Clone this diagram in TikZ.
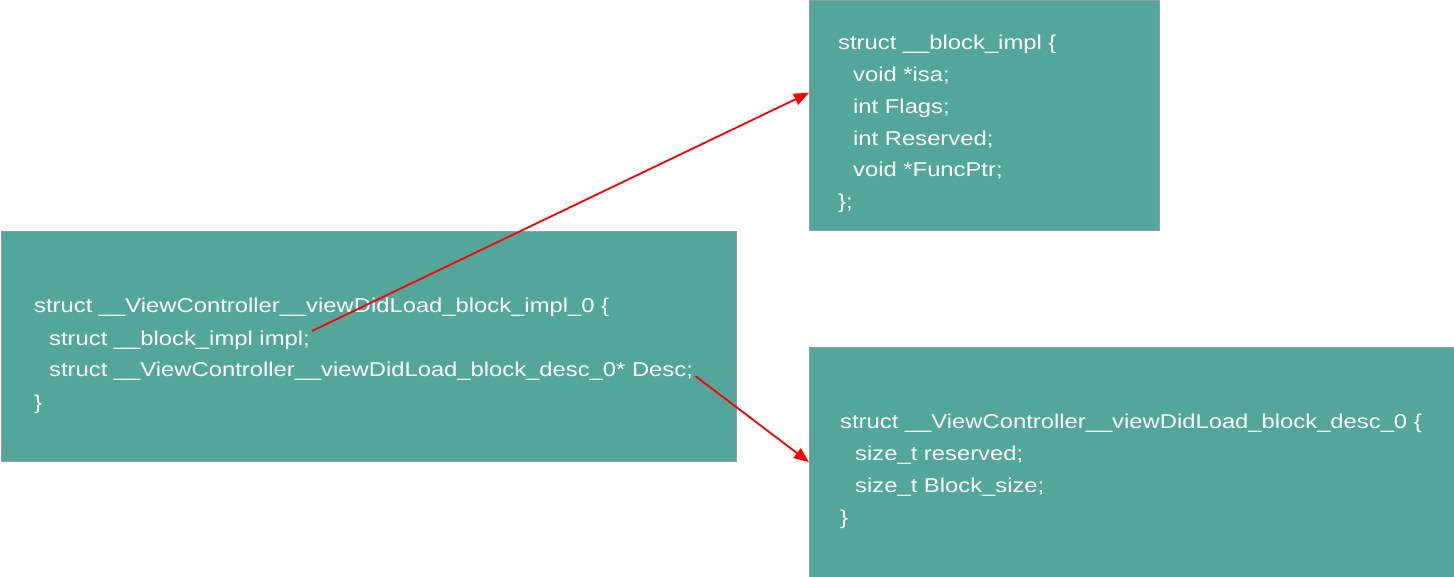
\documentclass[tikz,border=0pt]{standalone}
\usepackage{fontspec}
\setmainfont[FakeStretch=1.19]{Liberation Sans}
\usetikzlibrary{arrows.meta,calc}
\definecolor{boxfill}{HTML}{52A69A}
\definecolor{boxline}{HTML}{9A9A9A}
\begin{document}
\begin{tikzpicture}[x=1pt,y=-1pt,
  box/.style={draw=boxline, line width=0.8pt, fill=boxfill, rectangle, anchor=north west, inner sep=0pt},
  code/.style={anchor=base west, inner sep=0pt, text=white, font=\fontsize{20pt}{24pt}\selectfont},
  link/.style={draw=red, line width=1.8pt, -{Triangle[length=15pt,width=12pt]}}]
\useasboundingbox (0,0) rectangle (1454,577);
% boxes
\node[box, minimum width=735pt, minimum height=230pt] (L) at (0.5,231) {};
\node[box, minimum width=350pt, minimum height=230pt] (T) at (809,0.5) {};
\node[box, minimum width=644.5pt, minimum height=229.5pt] (B) at (809,347) {};
% left box text
\node[code] (l1) at (34,313) {struct \_\_ViewController\_\_viewDidLoad\_block\_impl\_0 \{};
\node[code] (l2) at (49,345) {struct \_\_block\_impl impl;};
\node[code] (l3) at (49,377) {struct \_\_ViewController\_\_viewDidLoad\_block\_desc\_0* Desc;};
\node[code] (l4) at (34,409) {\}};
% top box text
\node[code] (t1) at (838,50) {struct \_\_block\_impl \{};
\node[code] (t2) at (853,82) {void *isa;};
\node[code] (t3) at (853,114) {int Flags;};
\node[code] (t4) at (853,146) {int Reserved;};
\node[code] (t5) at (853,177) {void *FuncPtr;};
\node[code] (t6) at (838,209) {\};};
% bottom box text
\node[code] (b1) at (840,428) {struct \_\_ViewController\_\_viewDidLoad\_block\_desc\_0 \{};
\node[code] (b2) at (855,460) {size\_t reserved;};
\node[code] (b3) at (855,492) {size\_t Block\_size;};
\node[code] (b4) at (840,524) {\}};
% connectors
\coordinate (s1) at ([yshift=14pt,xshift=2pt]l2.base east);
\coordinate (e1) at ($(T.north west)!0.4!(T.south west)$);
\coordinate (s2) at ([yshift=1pt,xshift=2pt]l3.base east);
\draw[link] (s1) -- (e1);
\draw[link] (s2) -- (B.west);
\end{tikzpicture}
\end{document}
